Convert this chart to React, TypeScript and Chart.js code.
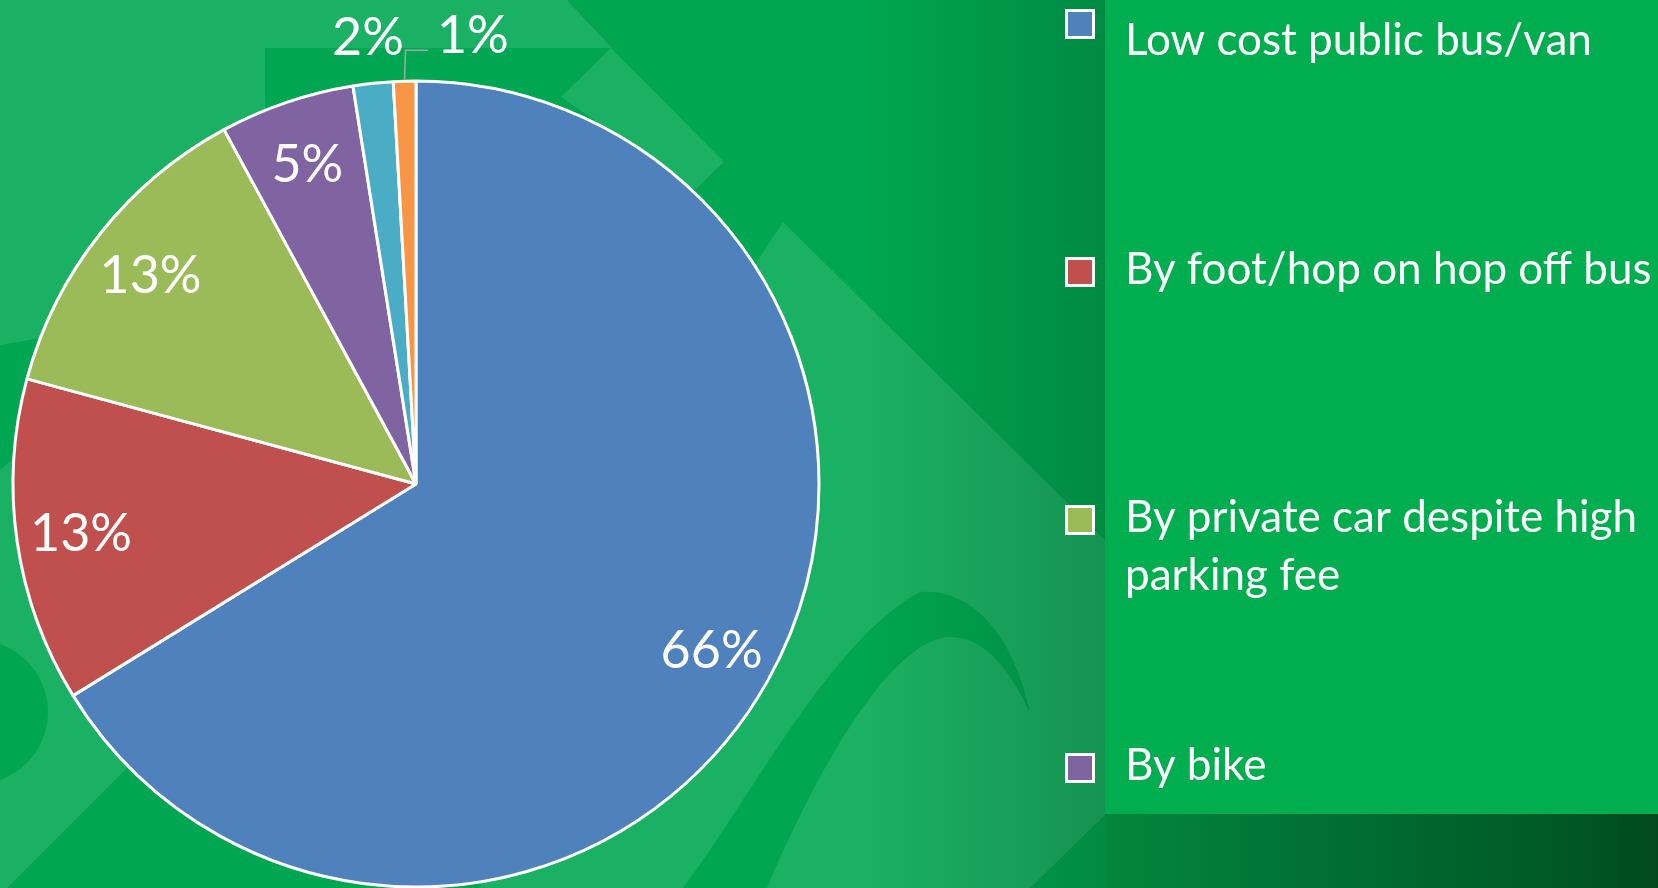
import React, { useEffect, useRef } from "react";
import { Chart, registerables } from "chart.js";

Chart.register(...registerables);

// ---- data ----
const categories = [
  "Low cost public bus/van",
  "By foot/hop on hop off bus",
  "By private car despite high parking fee",
  "By bike",
  "By taxi",
  "Other",
];
const shares = [66.2, 13.0, 12.9, 5.4, 1.6, 0.9];
const sliceColors = ["#4F81BD", "#C0504D", "#9BBB59", "#8064A2", "#4BACC6", "#F79646"];

const W = 1658;
const H = 888;
const FONT = "Lato, 'Open Sans', sans-serif";

function poly(ctx: CanvasRenderingContext2D, pts: number[][], color: string) {
  ctx.beginPath();
  ctx.moveTo(pts[0][0], pts[0][1]);
  for (let i = 1; i < pts.length; i++) ctx.lineTo(pts[i][0], pts[i][1]);
  ctx.closePath();
  ctx.fillStyle = color;
  ctx.fill();
}

const backgroundPlugin = {
  id: "slideBackground",
  beforeDraw(chart: any) {
    const ctx: CanvasRenderingContext2D = chart.ctx;
    const base = "#00a651";
    const light = "#1bb164";
    ctx.save();
    ctx.fillStyle = base;
    ctx.fillRect(0, 0, W, H);
    // top-left light area
    poly(ctx, [[0, 0], [567, 0], [612, 48], [265, 48], [265, 300], [0, 345]], light);
    // small diamond
    poly(ctx, [[561, 97], [611, 48], [724, 162], [695, 190]], light);
    // lower-left light area
    poly(ctx, [[0, 470], [60, 420], [250, 620], [150, 745], [7, 888], [0, 888]], light);
    ctx.beginPath();
    ctx.arc(-24, 712, 72, 0, Math.PI * 2);
    ctx.fillStyle = base;
    ctx.fill();
    // big diagonal band
    poly(ctx, [[783, 222], [1105, 540], [1105, 888], [480, 888], [600, 500]], light);
    poly(ctx, [[1105, 815], [1105, 888], [1030, 888]], base);
    // swoosh
    ctx.beginPath();
    ctx.moveTo(683, 888);
    ctx.bezierCurveTo(750, 800, 830, 640, 920, 592);
    ctx.bezierCurveTo(975, 588, 1015, 640, 1030, 713);
    ctx.bezierCurveTo(1010, 670, 985, 637, 950, 637);
    ctx.bezierCurveTo(900, 637, 830, 740, 767, 888);
    ctx.closePath();
    ctx.fillStyle = base;
    ctx.fill();
    // right darkening
    const g = ctx.createLinearGradient(860, 0, 1105, 0);
    g.addColorStop(0, "rgba(0,40,15,0)");
    g.addColorStop(1, "rgba(0,40,15,0.22)");
    ctx.fillStyle = g;
    ctx.fillRect(860, 0, 245, H);
    // legend panel
    ctx.fillStyle = "#00ae50";
    ctx.fillRect(1105, 0, W - 1105, 814);
    const g2 = ctx.createLinearGradient(1105, 0, W, 0);
    g2.addColorStop(0, "#03863e");
    g2.addColorStop(0.5, "#006a30");
    g2.addColorStop(0.8, "#005a26");
    g2.addColorStop(1, "#004a1e");
    ctx.fillStyle = g2;
    ctx.fillRect(1105, 814, W - 1105, H - 814);
    ctx.restore();
  },
};

function wrapText(ctx: CanvasRenderingContext2D, text: string, maxW: number): string[] {
  const words = text.split(" ");
  const lines: string[] = [];
  let cur = "";
  for (const w of words) {
    const test = cur ? cur + " " + w : w;
    if (cur && ctx.measureText(test).width > maxW) {
      lines.push(cur);
      cur = w;
    } else cur = test;
  }
  if (cur) lines.push(cur);
  return lines;
}

const legendPlugin = {
  id: "sideLegend",
  afterDraw(chart: any) {
    const ctx: CanvasRenderingContext2D = chart.ctx;
    const labels: string[] = chart.data.labels;
    const colors: string[] = chart.data.datasets[0].backgroundColor;
    ctx.save();
    ctx.font = `44px ${FONT}`;
    ctx.textBaseline = "alphabetic";
    ctx.textAlign = "left";
    labels.forEach((label, i) => {
      const top = 9 + i * 248;
      ctx.fillStyle = "#ffffff";
      ctx.fillRect(1065, top, 30, 30);
      ctx.fillStyle = colors[i];
      ctx.fillRect(1068, top + 3, 24, 24);
      const baseline = i === 0 ? 55 : top + 27;
      ctx.fillStyle = "#ffffff";
      wrapText(ctx, label, 548).forEach((line, j) => {
        ctx.fillText(line, 1125, baseline + j * 58);
      });
    });
    ctx.restore();
  },
};

const pctLabelPlugin = {
  id: "pctLabels",
  afterDatasetsDraw(chart: any) {
    const ctx: CanvasRenderingContext2D = chart.ctx;
    const meta = chart.getDatasetMeta(0);
    const data = chart.data.datasets[0].data as number[];
    const total = data.reduce((a, b) => a + b, 0);
    const size = 52;
    ctx.save();
    ctx.font = `${size}px ${FONT}`;
    ctx.fillStyle = "#ffffff";
    ctx.textAlign = "center";
    ctx.textBaseline = "alphabetic";
    const half = size * 0.358;
    let prevRight = -Infinity;
    meta.data.forEach((arc: any, i: number) => {
      const { x, y, startAngle, endAngle, outerRadius } = arc.getProps(
        ["x", "y", "startAngle", "endAngle", "outerRadius"],
        true
      );
      const mid = (startAngle + endAngle) / 2;
      const pct = (data[i] / total) * 100;
      const text = Math.round(pct) + "%";
      const w = ctx.measureText(text).width;
      if (pct >= 3) {
        const r = outerRadius * 0.84;
        ctx.fillText(text, x + Math.cos(mid) * r, y + Math.sin(mid) * r + half);
      } else {
        const r = outerRadius + 47;
        let lx = x + Math.cos(mid) * r;
        const ly = y + Math.sin(mid) * r;
        if (lx - w / 2 < prevRight + 30) {
          lx = prevRight + 33 + w / 2;
          const ex = x + Math.cos(mid) * (outerRadius + 2);
          const ey = y + Math.sin(mid) * (outerRadius + 2);
          ctx.strokeStyle = "#a6a6a6";
          ctx.lineWidth = 1.5;
          ctx.beginPath();
          ctx.moveTo(ex, ey);
          ctx.lineTo(ex + 1, ly + 16);
          ctx.lineTo(lx - w / 2 - 9, ly + 16);
          ctx.stroke();
        }
        ctx.fillText(text, lx, ly + half);
        prevRight = lx + w / 2;
      }
    });
    ctx.restore();
  },
};

export default function App() {
  const ref = useRef<HTMLCanvasElement>(null);
  useEffect(() => {
    document.body.style.margin = "0";
    const chart = new Chart(ref.current as HTMLCanvasElement, {
      type: "pie",
      data: {
        labels: categories,
        datasets: [
          {
            data: shares,
            backgroundColor: sliceColors,
            borderColor: "#ffffff",
            borderWidth: 3,
          },
        ],
      },
      options: {
        responsive: false,
        animation: false,
        events: [],
        radius: 403,
        layout: { padding: { left: 0, right: W - 832, top: 80, bottom: 0 } },
        plugins: {
          legend: { display: false },
          tooltip: { enabled: false },
        },
      } as any,
      plugins: [backgroundPlugin, pctLabelPlugin, legendPlugin],
    });
    return () => chart.destroy();
  }, []);
  return (
    <div style={{ position: "fixed", left: 0, top: 0, width: W, height: H, overflow: "hidden" }}>
      <canvas ref={ref} width={W} height={H} style={{ display: "block", width: W, height: H }} />
    </div>
  );
}
